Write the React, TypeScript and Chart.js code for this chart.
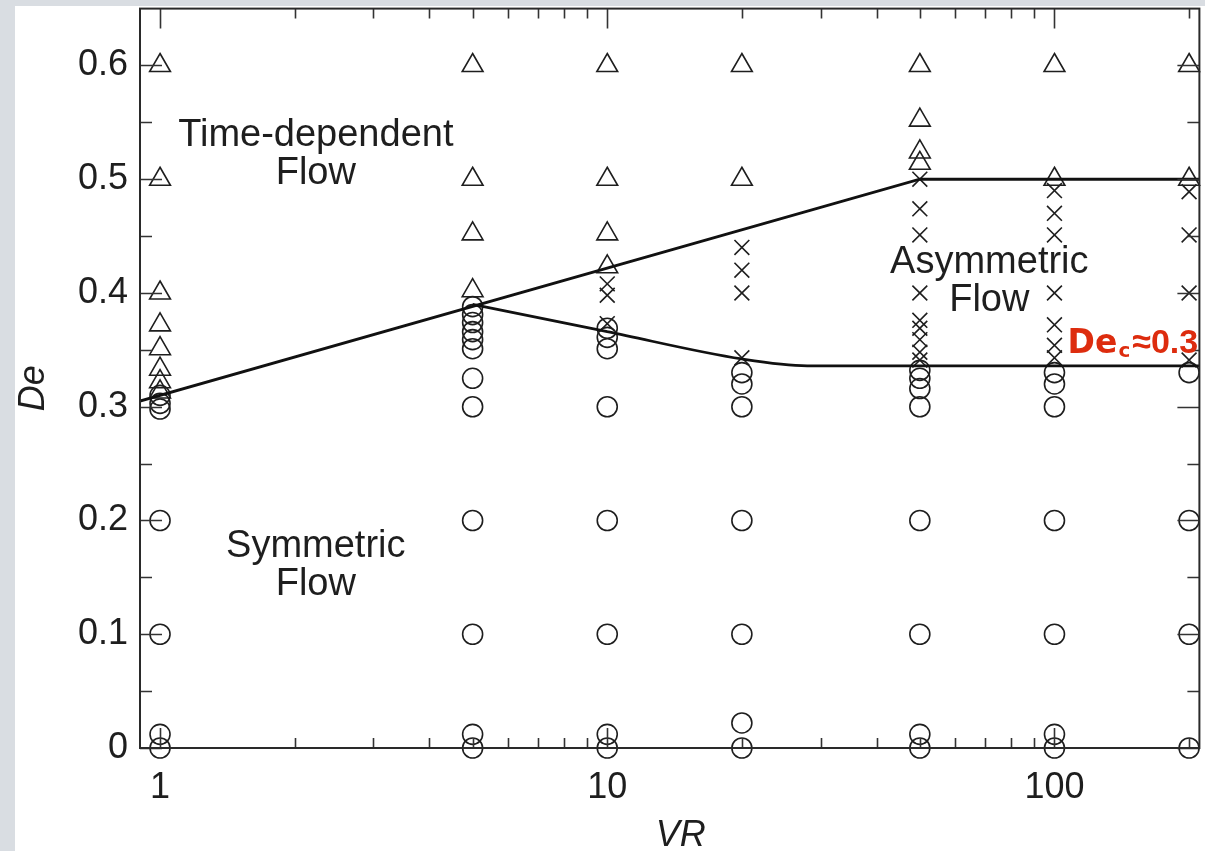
import React, { useEffect, useRef } from 'react';
import { Chart, registerables } from 'chart.js';

Chart.register(...registerables);

// ---------- data ----------
const VR_COLUMNS = [1, 5, 10, 20, 50, 100, 200];

// Time-dependent flow (triangles), one list per VR column
const TIME_DEPENDENT_DE = [
  [0.6, 0.5, 0.4, 0.372, 0.351, 0.333, 0.322, 0.313],
  [0.6, 0.5, 0.452, 0.402],
  [0.6, 0.5, 0.452, 0.423],
  [0.6, 0.5],
  [0.6, 0.552, 0.524, 0.514],
  [0.6, 0.5],
  [0.6, 0.5],
];

// Asymmetric flow (crosses)
const ASYMMETRIC_DE = [
  [],
  [],
  [0.408, 0.398, 0.373],
  [0.44, 0.42, 0.4, 0.343],
  [0.5, 0.474, 0.451, 0.4, 0.376, 0.369, 0.359, 0.348, 0.341],
  [0.49, 0.47, 0.451, 0.4, 0.372, 0.354, 0.343],
  [0.489, 0.451, 0.4, 0.341],
];

// Symmetric flow (circles)
const SYMMETRIC_DE = [
  [0.31, 0.303, 0.298, 0.2, 0.1, 0.012, 0],
  [0.388, 0.381, 0.374, 0.366, 0.359, 0.351, 0.325, 0.3, 0.2, 0.1, 0.012, 0],
  [0.369, 0.361, 0.351, 0.3, 0.2, 0.1, 0.012, 0],
  [0.33, 0.32, 0.3, 0.2, 0.1, 0.022, 0],
  [0.332, 0.325, 0.316, 0.3, 0.2, 0.1, 0.012, 0],
  [0.33, 0.32, 0.3, 0.2, 0.1, 0.012, 0],
  [0.33, 0.2, 0.1, 0],
];

// Boundary lines
const UPPER_BOUNDARY_VR = [0.902, 50, 210.9];
const UPPER_BOUNDARY_DE = [0.305, 0.5, 0.5];
const LOWER_BOUNDARY_VR = [5, 10, 20, 28, 210.9];
const LOWER_BOUNDARY_DE = [0.39, 0.366, 0.342, 0.336, 0.336];

// Axes
const X_MIN = 0.902;
const X_MAX = 210.9;
const Y_MIN = 0;
const Y_MAX = 0.65;
const X_MAJOR_TICKS = [1, 10, 100];
const X_MINOR_TICKS = [2, 3, 4, 5, 6, 7, 8, 9, 20, 30, 40, 50, 60, 70, 80, 90, 200];
const Y_MAJOR_TICKS = [0, 0.1, 0.2, 0.3, 0.4, 0.5, 0.6];
const Y_MINOR_TICKS = [0.05, 0.15, 0.25, 0.35, 0.45, 0.55];

const REGION_LABELS = [
  { lines: ['Time-dependent', 'Flow'], vr: 2.23, de: 0.5296 },
  { lines: ['Symmetric', 'Flow'], vr: 2.23, de: 0.1678 },
  { lines: ['Asymmetric', 'Flow'], vr: 71.5, de: 0.4172 },
];
const CRITICAL_LABEL = { main: 'De', sub: 'c', rest: '≈0.3', vr: 107, de: 0.347 };
const X_TITLE = 'VR';
const Y_TITLE = 'De';

// ---------- layout (canvas is shifted up by OFFSET_Y so the plot top lands at page y = 8) ----------
const CANVAS_W = 1213;
const CANVAS_H = 856;
const OFFSET_Y = 5;

// ---------- helpers ----------
const FONT = "'Liberation Sans', Arial, Helvetica, sans-serif";
const INK = '#1e1e1e';

const toPoints = (cols: number[][]) =>
  cols.flatMap((des, i) => des.map((de) => ({ x: VR_COLUMNS[i], y: de })));
const zipPoints = (xs: number[], ys: number[]) => xs.map((x, i) => ({ x, y: ys[i] }));

const framePlugin = {
  id: 'framePlugin',
  beforeDraw(chart: any) {
    const { ctx, width, height } = chart;
    ctx.save();
    ctx.fillStyle = '#d9dde2';
    ctx.fillRect(0, 0, width, height);
    ctx.fillStyle = '#ffffff';
    ctx.fillRect(15, 6 + OFFSET_Y, width - 15, height);
    ctx.restore();
  },
  afterDraw(chart: any) {
    const { ctx, chartArea } = chart;
    const { left, right, top, bottom } = chartArea;
    const xs = chart.scales.x;
    const ys = chart.scales.y;
    ctx.save();
    // ticks (inward on all four sides)
    ctx.strokeStyle = '#333';
    ctx.lineWidth = 1.6;
    ctx.beginPath();
    const xt = (vals: number[], len: number) => {
      vals.forEach((v) => {
        const px = Math.round(xs.getPixelForValue(v)) + 0.5;
        ctx.moveTo(px, bottom);
        ctx.lineTo(px, bottom - len);
        ctx.moveTo(px, top);
        ctx.lineTo(px, top + len);
      });
    };
    const yt = (vals: number[], len: number) => {
      vals.forEach((v) => {
        const py = Math.round(ys.getPixelForValue(v)) + 0.5;
        ctx.moveTo(left, py);
        ctx.lineTo(left + len, py);
        ctx.moveTo(right, py);
        ctx.lineTo(right - len, py);
      });
    };
    xt(X_MAJOR_TICKS, 20);
    xt(X_MINOR_TICKS, 10);
    yt(Y_MAJOR_TICKS, 22);
    yt(Y_MINOR_TICKS, 12);
    ctx.stroke();
    // frame
    ctx.strokeStyle = '#2a2a2a';
    ctx.lineWidth = 2;
    ctx.strokeRect(left, top, right - left, bottom - top);

    // region labels
    ctx.fillStyle = INK;
    ctx.font = `38px ${FONT}`;
    ctx.textAlign = 'center';
    ctx.textBaseline = 'alphabetic';
    REGION_LABELS.forEach((lab) => {
      const px = xs.getPixelForValue(lab.vr);
      const py = ys.getPixelForValue(lab.de);
      lab.lines.forEach((t, i) => ctx.fillText(t, px, py + i * 38));
    });

    // axis titles
    ctx.font = `italic 36px ${FONT}`;
    ctx.textAlign = 'center';
    ctx.textBaseline = 'alphabetic';
    ctx.fillText(X_TITLE, (left + right) / 2 + 11, bottom + 98);
    ctx.save();
    ctx.translate(left - 96, (top + bottom) / 2 + 10);
    ctx.rotate(-Math.PI / 2);
    ctx.textBaseline = 'alphabetic';
    ctx.fillText(Y_TITLE, 0, 0);
    ctx.restore();

    // critical De label
    const cx = xs.getPixelForValue(CRITICAL_LABEL.vr);
    const cy = ys.getPixelForValue(CRITICAL_LABEL.de);
    ctx.fillStyle = '#dd2c0e';
    ctx.textAlign = 'left';
    ctx.textBaseline = 'alphabetic';
    ctx.font = `bold 33px 'DejaVu Sans', ${FONT}`;
    ctx.fillText(CRITICAL_LABEL.main, cx, cy);
    let w = ctx.measureText(CRITICAL_LABEL.main).width;
    ctx.font = `bold 20px 'DejaVu Sans', ${FONT}`;
    ctx.fillText(CRITICAL_LABEL.sub, cx + w + 1, cy + 4);
    w += ctx.measureText(CRITICAL_LABEL.sub).width + 3;
    ctx.font = `bold 34px ${FONT}`;
    ctx.fillText(CRITICAL_LABEL.rest, cx + w, cy);
    ctx.restore();
  },
};

export default function App() {
  const ref = useRef<HTMLCanvasElement | null>(null);

  useEffect(() => {
    if (!ref.current) return;
    const markerCommon = {
      showLine: false,
      borderColor: INK,
      backgroundColor: 'rgba(0,0,0,0)',
      pointBackgroundColor: 'rgba(0,0,0,0)',
      pointBorderColor: INK,
      pointBorderWidth: 1.6,
      clip: false as any,
    };
    const chart = new Chart(ref.current, {
      type: 'scatter',
      data: {
        datasets: [
          {
            label: 'upper boundary',
            data: zipPoints(UPPER_BOUNDARY_VR, UPPER_BOUNDARY_DE),
            showLine: true,
            borderColor: '#111',
            borderWidth: 2.8,
            pointRadius: 0,
            tension: 0,
          },
          {
            label: 'lower boundary',
            data: zipPoints(LOWER_BOUNDARY_VR, LOWER_BOUNDARY_DE),
            showLine: true,
            borderColor: '#111',
            borderWidth: 2.8,
            pointRadius: 0,
            cubicInterpolationMode: 'monotone',
            tension: 0.3,
          },
          {
            label: 'Time-dependent',
            data: toPoints(TIME_DEPENDENT_DE),
            pointStyle: 'triangle',
            pointRadius: 12,
            ...markerCommon,
          },
          {
            label: 'Asymmetric',
            data: toPoints(ASYMMETRIC_DE),
            pointStyle: 'crossRot',
            pointRadius: 10.5,
            ...markerCommon,
          },
          {
            label: 'Symmetric',
            data: toPoints(SYMMETRIC_DE),
            pointStyle: 'circle',
            pointRadius: 10,
            ...markerCommon,
          },
        ] as any,
      },
      options: {
        responsive: false,
        animation: false,
        devicePixelRatio: 1,
        events: [],
        layout: { padding: { left: 0, right: 13, top: 8 + OFFSET_Y, bottom: 0 } },
        plugins: {
          legend: { display: false },
          tooltip: { enabled: false },
          title: { display: false },
        },
        scales: {
          x: {
            type: 'logarithmic',
            min: X_MIN,
            max: X_MAX,
            grid: { display: false, drawTicks: false },
            border: { display: false },
            afterBuildTicks: (s: any) => {
              s.ticks = X_MAJOR_TICKS.map((v) => ({ value: v }));
            },
            afterFit: (s: any) => {
              s.height = 103;
              s.paddingLeft = 0;
              s.paddingRight = 0;
              s.paddingTop = 0;
              s.paddingBottom = 0;
            },
            ticks: {
              autoSkip: false,
              maxRotation: 0,
              padding: 18,
              color: INK,
              font: { family: FONT, size: 36 },
              callback: (v: any) => String(v),
            },
          },
          y: {
            type: 'linear',
            min: Y_MIN,
            max: Y_MAX,
            grid: { display: false, drawTicks: false },
            border: { display: false },
            afterBuildTicks: (s: any) => {
              s.ticks = Y_MAJOR_TICKS.map((v) => ({ value: v }));
            },
            afterFit: (s: any) => {
              s.width = 140;
              s.paddingLeft = 0;
              s.paddingRight = 0;
              s.paddingTop = 0;
              s.paddingBottom = 0;
            },
            ticks: {
              padding: 12,
              color: INK,
              font: { family: FONT, size: 36 },
              callback: (v: any) => (Number(v) === 0 ? '0' : Number(v).toFixed(1)),
            },
          },
        } as any,
      },
      plugins: [framePlugin],
    });
    return () => chart.destroy();
  }, []);

  return (
    <div
      style={{
        position: 'fixed',
        left: 0,
        top: 0,
        width: 1205,
        height: 851,
        overflow: 'hidden',
        background: '#d9dde2',
      }}
    >
      <canvas
        ref={ref}
        width={CANVAS_W}
        height={CANVAS_H}
        style={{ position: 'absolute', left: 0, top: -OFFSET_Y, display: 'block', width: CANVAS_W, height: CANVAS_H }}
      />
    </div>
  );
}
